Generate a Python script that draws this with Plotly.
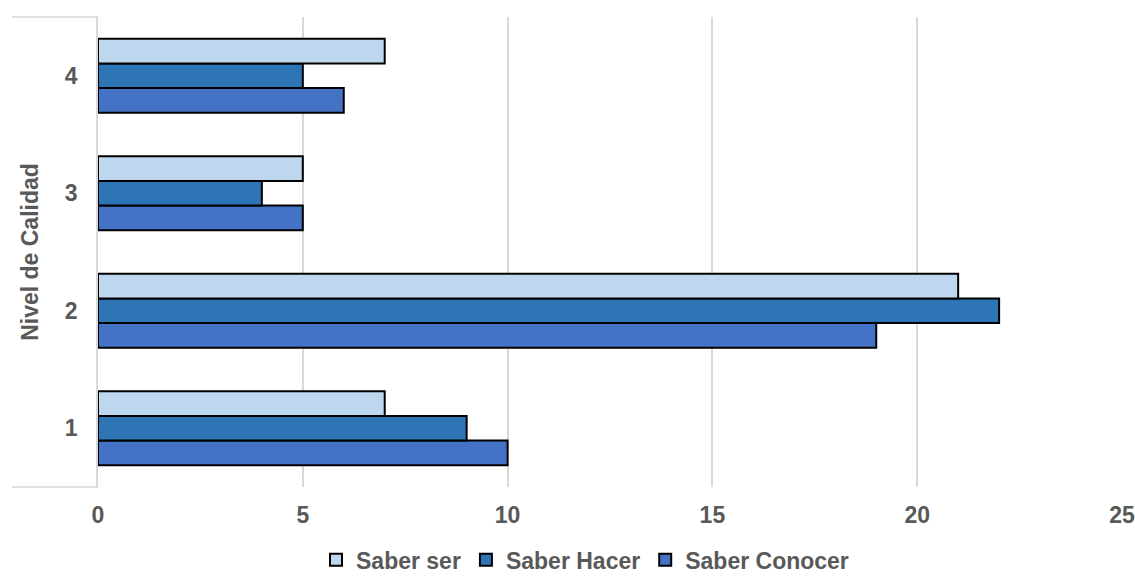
import plotly.graph_objects as go

# Quality levels and the count per competence dimension
niveles = ["1", "2", "3", "4"]
saber_ser = [7, 21, 5, 7]
saber_hacer = [9, 22, 4, 5]
saber_conocer = [10, 19, 5, 6]

series = [
    ("Saber Conocer", saber_conocer, "#4472C4"),
    ("Saber Hacer", saber_hacer, "#2E75B6"),
    ("Saber ser", saber_ser, "#BDD7EE"),
]

text_color = "#595959"
grid_color = "#D9D9D9"
font_family = "Liberation Sans, Arial, sans-serif"

fig = go.Figure()
for name, values, color in series:
    fig.add_trace(go.Bar(
        y=niveles,
        x=values,
        name=name,
        orientation="h",
        marker=dict(color=color, line=dict(color="#000000", width=2)),
    ))

fig.update_layout(
    width=1135,
    height=577,
    margin=dict(l=98, r=13, t=17, b=90, autoexpand=False),
    paper_bgcolor="white",
    plot_bgcolor="white",
    barmode="group",
    bargap=0.37,
    bargroupgap=0,
    font=dict(family=font_family, size=23, color=text_color),
    showlegend=True,
    legend=dict(
        orientation="h",
        traceorder="reversed",
        x=0.4756,
        xanchor="center",
        y=-0.155,
        yanchor="middle",
        font=dict(family=font_family, size=23, color=text_color, weight="bold"),
        itemwidth=30,
    ),
    xaxis=dict(
        range=[0, 25],
        dtick=5,
        showgrid=True,
        gridcolor=grid_color,
        gridwidth=1.5,
        zeroline=False,
        showline=False,
        ticks="",
        automargin=False,
        ticklabelstandoff=12,
        tickfont=dict(family=font_family, size=23, color=text_color, weight="bold"),
    ),
    yaxis=dict(
        type="category",
        showgrid=False,
        zeroline=False,
        showline=True,
        linecolor=grid_color,
        linewidth=1.5,
        ticks="",
        automargin=False,
        ticklabelstandoff=14,
        tickfont=dict(family=font_family, size=23, color=text_color, weight="bold"),
        title=dict(
            text="Nivel de Calidad",
            standoff=20,
            font=dict(family=font_family, size=23, color=text_color, weight="bold"),
        ),
    ),
)

# Border segments closing the category axis at its top and bottom
for yv in (0, 1):
    fig.add_shape(
        type="line", xref="paper", yref="paper",
        x0=-0.084, x1=0, y0=yv, y1=yv,
        line=dict(color=grid_color, width=1.5),
    )

fig.write_html("out.html")
